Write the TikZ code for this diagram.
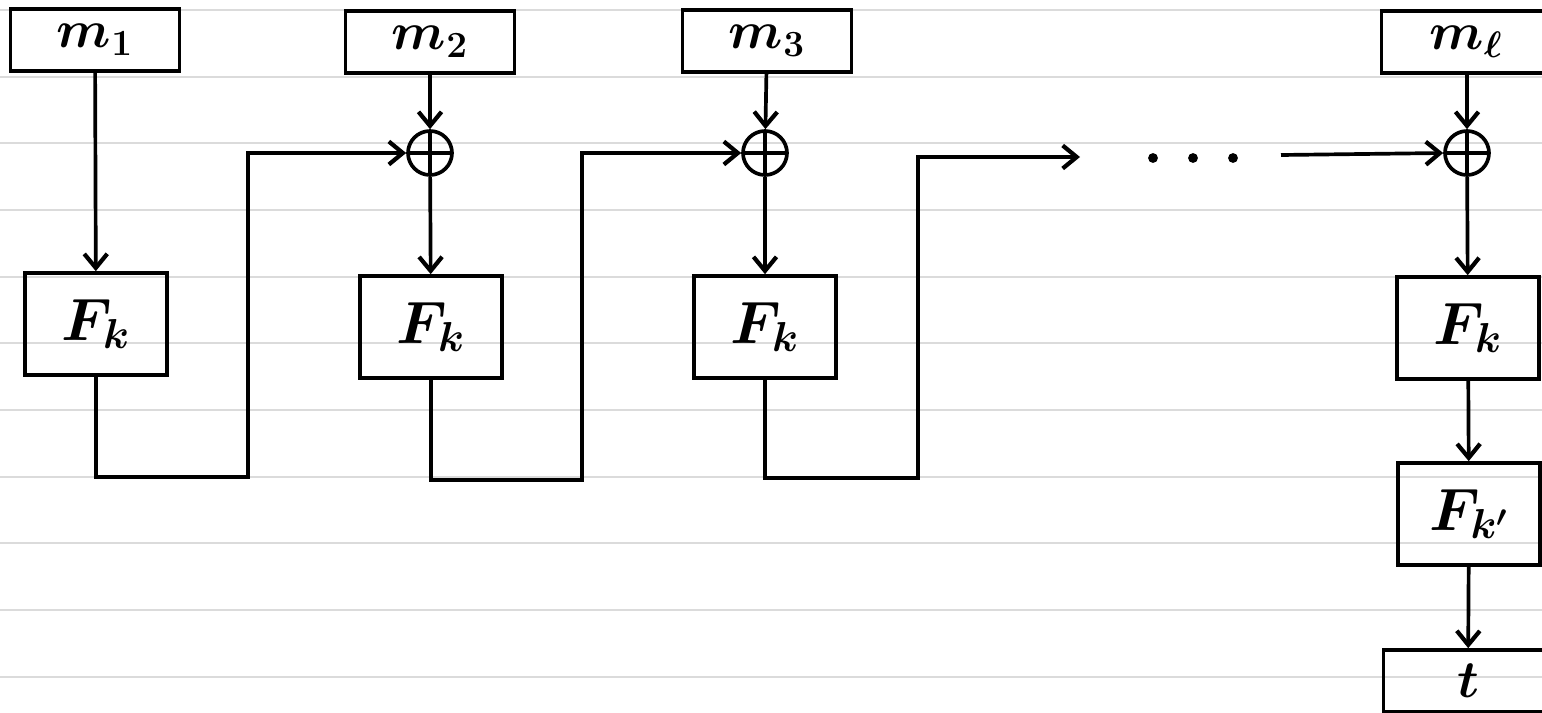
\documentclass[tikz,border=0pt]{standalone}
\usepackage{fix-cm}
\usetikzlibrary{arrows.meta}
\begin{document}
\begin{tikzpicture}[x=0.02cm, y=-0.02cm, line width=2.1pt,
    rule/.style={draw=black!14, line width=1.1pt},
    block/.style={rectangle, draw, minimum width=3.38cm, minimum height=1.24cm, font=\fontsize{30}{34}\selectfont\boldmath},
    prf/.style={rectangle, draw, minimum width=2.84cm, minimum height=2.04cm, font=\fontsize{34}{38}\selectfont\boldmath},
    xor/.style={circle, draw, minimum size=0.88cm, inner sep=0pt,
        path picture={\draw (path picture bounding box.north) -- (path picture bounding box.south)
                            (path picture bounding box.west) -- (path picture bounding box.east);}},
    >={Straight Barb[length=0.28cm, width=0.46cm, line width=2.4pt]}]
    \useasboundingbox (0,0) rectangle (1542,713);
    % ruled paper
    \foreach \i in {0,...,10}
        \draw[rule] (0,{10+66.67*\i}) -- (1542,{10+66.67*\i});

    \node (m1) [block] at (95, 40) {$m_1$};
    \node (m2) [block] at (430, 42) {$m_2$};
    \node (m3) [block] at (767, 41) {$m_3$};
    \node (ml) [block] at (1466, 42) {$m_\ell$};

    \node (x2) [xor] at (430, 153) {};
    \node (x3) [xor] at (765, 153) {};
    \node (x4) [xor] at (1467, 153) {};

    \node (fk1) [prf] at (96, 324) {$F_k$};
    \node (fk2) [prf] at (431, 327) {$F_k$};
    \node (fk3) [prf] at (765, 327) {$F_k$};
    \node (fk4) [prf] at (1468, 328) {$F_k$};
    \node (fkp) [prf] at (1469, 514) {$F_{k'}$};
    \node (t) [block] at (1468, 681) {$t$};

    \coordinate (dotsin) at (1080, 157);
    \coordinate (dotsout) at (1281, 155);
    \foreach \x in {1153, 1193, 1233}
        \fill (\x, 158) circle[radius=2.8pt];

    \draw[->] (m1) -- (fk1);
    \draw[->] (m2) -- (x2);
    \draw[->] (x2) -- (fk2);
    \draw[->] (m3) -- (x3);
    \draw[->] (x3) -- (fk3);
    \draw[->] (ml.south -| x4) -- (x4);
    \draw[->] (x4) -- (fk4);
    \draw[->] (fk4) -- (fkp);
    \draw[->] (fkp) -- (t);

    % chaining
    \draw[->] (fk1.south) -- ++(0, 100) -- ++(152, 0) |- (x2.west);
    \draw[->] (fk2.south) -- ++(0, 100) -- ++(151, 0) |- (x3.west);
    \draw[->] (fk3.south) -- ++(0, 98) -- ++(153, 0) |- (dotsin);
    \draw[->] (dotsout) -- (x4.west);
\end{tikzpicture}
\end{document}
